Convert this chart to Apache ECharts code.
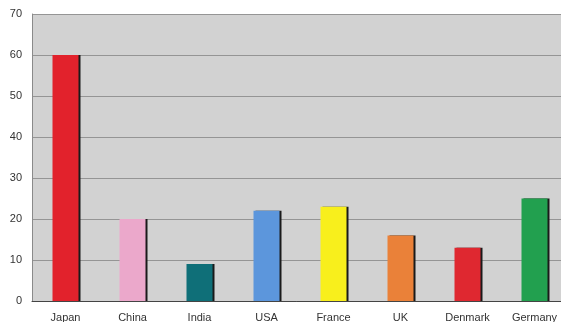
<!DOCTYPE html>
<html>
<head>
<meta charset="utf-8">
<script src="https://cdn.jsdelivr.net/npm/echarts@6/dist/echarts.min.js"></script>
<style>
html,body{margin:0;padding:0;background:#fff;}
#chart{width:561px;height:322px;}
</style>
</head>
<body>
<div id="chart"></div>
<script>
// Countries and their values
const countries = ['Japan', 'China', 'India', 'USA', 'France', 'UK', 'Denmark', 'Germany'];
const values = [60, 20, 9, 22, 23, 16, 13, 25];
const barColors = ['#e2222c', '#eba8cb', '#0f6f78', '#5c96dc', '#f8ef1c', '#ea8139', '#df2830', '#22a04f'];
const yTicks = [0, 10, 20, 30, 40, 50, 60, 70];

const chart = echarts.init(document.getElementById('chart'));
chart.setOption({
  animation: false,
  grid: {
    left: 32, top: 14, bottom: 21, width: 536,
    outerBoundsMode: 'none', containLabel: false,
    show: true, backgroundColor: '#d2d2d2', borderWidth: 0
  },
  xAxis: {
    type: 'category',
    data: countries,
    axisTick: { show: false },
    axisLine: { lineStyle: { color: '#444', width: 1 } },
    axisLabel: { color: '#333', fontSize: 11, margin: 11, fontFamily: 'Liberation Sans' }
  },
  yAxis: {
    type: 'value',
    min: yTicks[0], max: yTicks[yTicks.length - 1], interval: 10,
    axisLine: { show: true, lineStyle: { color: '#8a8a8a' } },
    axisTick: { show: false },
    splitLine: { lineStyle: { color: '#959595', width: 1 } },
    axisLabel: { color: '#333', fontSize: 11, margin: 10, fontFamily: 'Liberation Sans' }
  },
  series: [{
    type: 'bar',
    barWidth: 26,
    data: values.map((v, i) => ({
      value: v,
      itemStyle: { color: barColors[i] }
    })),
    itemStyle: {
      shadowColor: '#1a1a1a', shadowOffsetX: 2, shadowOffsetY: 0, shadowBlur: 0
    }
  }]
});
</script>
</body>
</html>
